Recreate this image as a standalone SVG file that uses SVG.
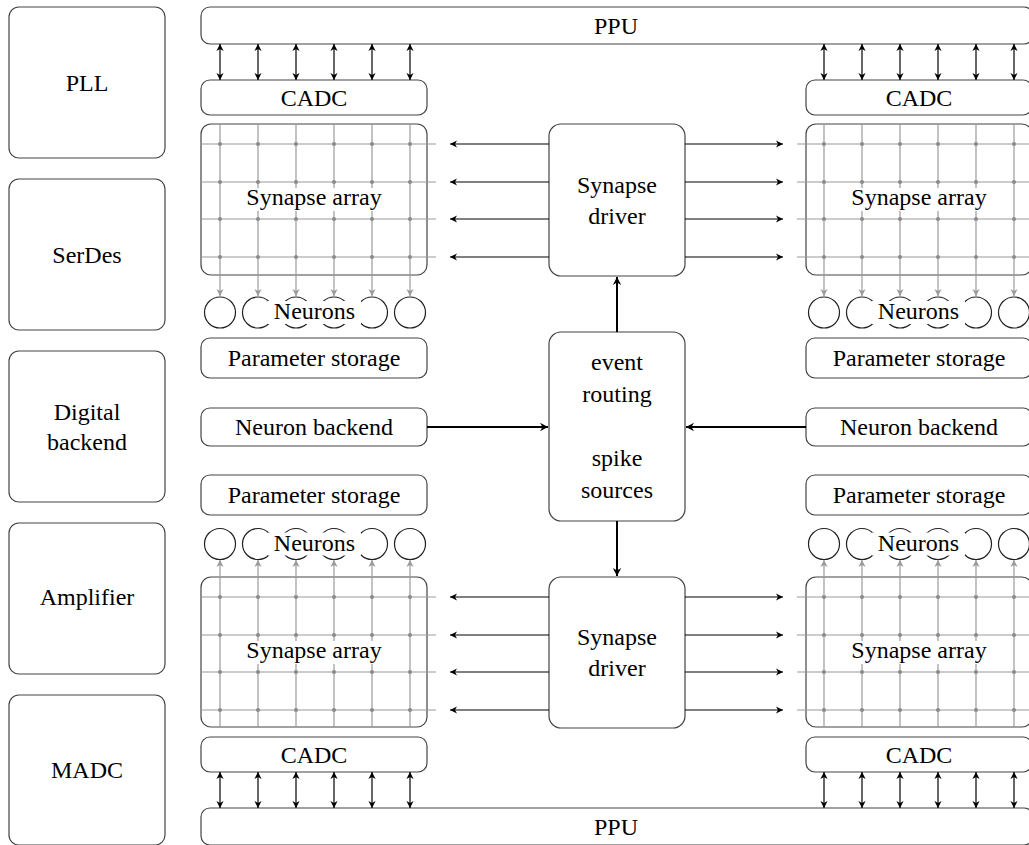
<svg xmlns="http://www.w3.org/2000/svg" width="1029" height="845" viewBox="0 0 1029 845">
<style>
.box{fill:#fff;stroke:#444;stroke-width:1.2}
.t{font-family:'Liberation Serif',serif;font-size:24px;fill:#000;text-anchor:middle}
.grid{stroke:#9a9a9a;stroke-width:1.2;fill:none}
.dot{fill:#8a8a8a}
.gar{stroke:#9a9a9a;stroke-width:1.2;fill:none;marker-end:url(#ag)}
.ar{stroke:#000;stroke-width:1.2;fill:none;marker-end:url(#ab)}
.dar{stroke:#000;stroke-width:1.2;fill:none;marker-end:url(#ab);marker-start:url(#ab)}
.tar{stroke:#000;stroke-width:2;fill:none;marker-end:url(#at)}
.neu{fill:none;stroke:#222;stroke-width:1.2}
.wb{fill:#fff;stroke:none}
</style>
<defs>
<marker id="ab" viewBox="-8 -4 9 8" refX="0" refY="0" markerWidth="9" markerHeight="8" markerUnits="userSpaceOnUse" orient="auto-start-reverse">
<path d="M0,0 L-7,-3.6 L-5,0 L-7,3.6 Z" fill="#000"/>
</marker>
<marker id="ag" viewBox="-8 -4 9 8" refX="0" refY="0" markerWidth="9" markerHeight="8" markerUnits="userSpaceOnUse" orient="auto">
<path d="M0,0 L-7,-3.6 L-5,0 L-7,3.6 Z" fill="#9a9a9a"/>
</marker>
<marker id="at" viewBox="-9 -5 10 10" refX="0" refY="0" markerWidth="10" markerHeight="10" markerUnits="userSpaceOnUse" orient="auto">
<path d="M0,0 L-8,-4.2 L-5.5,0 L-8,4.2 Z" fill="#000"/>
</marker>
</defs>
<!-- left column -->
<g id="pll"><rect class="box" x="9" y="7" width="156" height="151" rx="10"/><text class="t" x="87" y="91">PLL</text></g>
<g id="serdes"><rect class="box" x="9" y="179" width="156" height="151" rx="10"/><text class="t" x="87" y="263">SerDes</text></g>
<g id="digital"><rect class="box" x="9" y="351" width="156" height="151" rx="10"/><text class="t" x="87" y="420">Digital</text><text class="t" x="87" y="450">backend</text></g>
<g id="amplifier"><rect class="box" x="9" y="523" width="156" height="151" rx="10"/><text class="t" x="87" y="605">Amplifier</text></g>
<g id="madc"><rect class="box" x="9" y="695" width="156" height="150" rx="10"/><text class="t" x="87" y="778">MADC</text></g>

<!-- PPU -->
<g id="ppu-top"><rect class="box" x="201" y="7" width="832" height="37" rx="9"/><text class="t" x="616" y="34">PPU</text></g>
<g id="ppu-bottom"><rect class="box" x="201" y="808" width="832" height="37" rx="9"/><text class="t" x="616" y="835">PPU</text></g>

<!-- CADC -->
<g id="cadc-tl"><rect class="box" x="201" y="80" width="226" height="35" rx="9"/><text class="t" x="314" y="106">CADC</text></g>
<g id="cadc-tr"><rect class="box" x="806" y="80" width="226" height="35" rx="9"/><text class="t" x="919" y="106">CADC</text></g>
<g id="cadc-bl"><rect class="box" x="201" y="737" width="226" height="35" rx="9"/><text class="t" x="314" y="763">CADC</text></g>
<g id="cadc-br"><rect class="box" x="806" y="737" width="226" height="35" rx="9"/><text class="t" x="919" y="763">CADC</text></g>

<!-- Synapse arrays -->
<g id="array-tl">
<rect class="box" x="201" y="124" width="226" height="151" rx="10"/>
<path class="grid" d="M201,144H436M201,182H436M201,219H436M201,257H436"/>
<path class="gar" d="M220,124V296"/><path class="gar" d="M258,124V296"/><path class="gar" d="M296,124V296"/><path class="gar" d="M334,124V296"/><path class="gar" d="M372,124V296"/><path class="gar" d="M410,124V296"/>
<g class="dot">
<circle cx="220" cy="144" r="2"/><circle cx="258" cy="144" r="2"/><circle cx="296" cy="144" r="2"/><circle cx="334" cy="144" r="2"/><circle cx="372" cy="144" r="2"/><circle cx="410" cy="144" r="2"/>
<circle cx="220" cy="182" r="2"/><circle cx="258" cy="182" r="2"/><circle cx="296" cy="182" r="2"/><circle cx="334" cy="182" r="2"/><circle cx="372" cy="182" r="2"/><circle cx="410" cy="182" r="2"/>
<circle cx="220" cy="219" r="2"/><circle cx="258" cy="219" r="2"/><circle cx="296" cy="219" r="2"/><circle cx="334" cy="219" r="2"/><circle cx="372" cy="219" r="2"/><circle cx="410" cy="219" r="2"/>
<circle cx="220" cy="257" r="2"/><circle cx="258" cy="257" r="2"/><circle cx="296" cy="257" r="2"/><circle cx="334" cy="257" r="2"/><circle cx="372" cy="257" r="2"/><circle cx="410" cy="257" r="2"/>
</g>
<rect class="wb" x="244" y="188" width="140" height="23"/>
<text class="t" x="314" y="205">Synapse array</text>
</g>

<g id="array-tr">
<rect class="box" x="806" y="124" width="226" height="151" rx="10"/>
<path class="grid" d="M797,144H1033M797,182H1033M797,219H1033M797,257H1033"/>
<path class="gar" d="M824,124V296"/><path class="gar" d="M862,124V296"/><path class="gar" d="M900,124V296"/><path class="gar" d="M938,124V296"/><path class="gar" d="M976,124V296"/><path class="gar" d="M1014,124V296"/>
<g class="dot">
<circle cx="824" cy="144" r="2"/><circle cx="862" cy="144" r="2"/><circle cx="900" cy="144" r="2"/><circle cx="938" cy="144" r="2"/><circle cx="976" cy="144" r="2"/><circle cx="1014" cy="144" r="2"/>
<circle cx="824" cy="182" r="2"/><circle cx="862" cy="182" r="2"/><circle cx="900" cy="182" r="2"/><circle cx="938" cy="182" r="2"/><circle cx="976" cy="182" r="2"/><circle cx="1014" cy="182" r="2"/>
<circle cx="824" cy="219" r="2"/><circle cx="862" cy="219" r="2"/><circle cx="900" cy="219" r="2"/><circle cx="938" cy="219" r="2"/><circle cx="976" cy="219" r="2"/><circle cx="1014" cy="219" r="2"/>
<circle cx="824" cy="257" r="2"/><circle cx="862" cy="257" r="2"/><circle cx="900" cy="257" r="2"/><circle cx="938" cy="257" r="2"/><circle cx="976" cy="257" r="2"/><circle cx="1014" cy="257" r="2"/>
</g>
<rect class="wb" x="849" y="188" width="140" height="23"/>
<text class="t" x="919" y="205">Synapse array</text>
</g>

<g id="array-bl">
<rect class="box" x="201" y="577" width="226" height="150" rx="10"/>
<path class="grid" d="M201,597H436M201,635H436M201,672H436M201,710H436"/>
<path class="gar" d="M220,727V560"/><path class="gar" d="M258,727V560"/><path class="gar" d="M296,727V560"/><path class="gar" d="M334,727V560"/><path class="gar" d="M372,727V560"/><path class="gar" d="M410,727V560"/>
<g class="dot">
<circle cx="220" cy="597" r="2"/><circle cx="258" cy="597" r="2"/><circle cx="296" cy="597" r="2"/><circle cx="334" cy="597" r="2"/><circle cx="372" cy="597" r="2"/><circle cx="410" cy="597" r="2"/>
<circle cx="220" cy="635" r="2"/><circle cx="258" cy="635" r="2"/><circle cx="296" cy="635" r="2"/><circle cx="334" cy="635" r="2"/><circle cx="372" cy="635" r="2"/><circle cx="410" cy="635" r="2"/>
<circle cx="220" cy="672" r="2"/><circle cx="258" cy="672" r="2"/><circle cx="296" cy="672" r="2"/><circle cx="334" cy="672" r="2"/><circle cx="372" cy="672" r="2"/><circle cx="410" cy="672" r="2"/>
<circle cx="220" cy="710" r="2"/><circle cx="258" cy="710" r="2"/><circle cx="296" cy="710" r="2"/><circle cx="334" cy="710" r="2"/><circle cx="372" cy="710" r="2"/><circle cx="410" cy="710" r="2"/>
</g>
<rect class="wb" x="244" y="641" width="140" height="23"/>
<text class="t" x="314" y="658">Synapse array</text>
</g>

<g id="array-br">
<rect class="box" x="806" y="577" width="226" height="150" rx="10"/>
<path class="grid" d="M797,597H1033M797,635H1033M797,672H1033M797,710H1033"/>
<path class="gar" d="M824,727V560"/><path class="gar" d="M862,727V560"/><path class="gar" d="M900,727V560"/><path class="gar" d="M938,727V560"/><path class="gar" d="M976,727V560"/><path class="gar" d="M1014,727V560"/>
<g class="dot">
<circle cx="824" cy="597" r="2"/><circle cx="862" cy="597" r="2"/><circle cx="900" cy="597" r="2"/><circle cx="938" cy="597" r="2"/><circle cx="976" cy="597" r="2"/><circle cx="1014" cy="597" r="2"/>
<circle cx="824" cy="635" r="2"/><circle cx="862" cy="635" r="2"/><circle cx="900" cy="635" r="2"/><circle cx="938" cy="635" r="2"/><circle cx="976" cy="635" r="2"/><circle cx="1014" cy="635" r="2"/>
<circle cx="824" cy="672" r="2"/><circle cx="862" cy="672" r="2"/><circle cx="900" cy="672" r="2"/><circle cx="938" cy="672" r="2"/><circle cx="976" cy="672" r="2"/><circle cx="1014" cy="672" r="2"/>
<circle cx="824" cy="710" r="2"/><circle cx="862" cy="710" r="2"/><circle cx="900" cy="710" r="2"/><circle cx="938" cy="710" r="2"/><circle cx="976" cy="710" r="2"/><circle cx="1014" cy="710" r="2"/>
</g>
<rect class="wb" x="849" y="641" width="140" height="23"/>
<text class="t" x="919" y="658">Synapse array</text>
</g>

<!-- Neurons -->
<g id="neurons-tl">
<circle class="neu" cx="220" cy="312.5" r="15.5"/><circle class="neu" cx="258" cy="312.5" r="15.5"/><circle class="neu" cx="296" cy="312.5" r="15.5"/><circle class="neu" cx="334" cy="312.5" r="15.5"/><circle class="neu" cx="372" cy="312.5" r="15.5"/><circle class="neu" cx="410" cy="312.5" r="15.5"/>
<rect class="wb" x="268" y="301" width="93" height="23"/>
<text class="t" x="314.5" y="319">Neurons</text>
</g>
<g id="neurons-tr">
<circle class="neu" cx="824" cy="312.5" r="15.5"/><circle class="neu" cx="862" cy="312.5" r="15.5"/><circle class="neu" cx="900" cy="312.5" r="15.5"/><circle class="neu" cx="938" cy="312.5" r="15.5"/><circle class="neu" cx="976" cy="312.5" r="15.5"/><circle class="neu" cx="1014" cy="312.5" r="15.5"/>
<rect class="wb" x="872" y="301" width="93" height="23"/>
<text class="t" x="918.5" y="319">Neurons</text>
</g>
<g id="neurons-bl">
<circle class="neu" cx="220" cy="544" r="15.5"/><circle class="neu" cx="258" cy="544" r="15.5"/><circle class="neu" cx="296" cy="544" r="15.5"/><circle class="neu" cx="334" cy="544" r="15.5"/><circle class="neu" cx="372" cy="544" r="15.5"/><circle class="neu" cx="410" cy="544" r="15.5"/>
<rect class="wb" x="268" y="532.5" width="93" height="23"/>
<text class="t" x="314.5" y="550.5">Neurons</text>
</g>
<g id="neurons-br">
<circle class="neu" cx="824" cy="544" r="15.5"/><circle class="neu" cx="862" cy="544" r="15.5"/><circle class="neu" cx="900" cy="544" r="15.5"/><circle class="neu" cx="938" cy="544" r="15.5"/><circle class="neu" cx="976" cy="544" r="15.5"/><circle class="neu" cx="1014" cy="544" r="15.5"/>
<rect class="wb" x="872" y="532.5" width="93" height="23"/>
<text class="t" x="918.5" y="550.5">Neurons</text>
</g>

<!-- Parameter storage / Neuron backend -->
<g id="param-tl"><rect class="box" x="201" y="338" width="226" height="40" rx="9"/><text class="t" x="314" y="366">Parameter storage</text></g>
<g id="param-tr"><rect class="box" x="806" y="338" width="226" height="40" rx="9"/><text class="t" x="919" y="366">Parameter storage</text></g>
<g id="backend-l"><rect class="box" x="201" y="408" width="226" height="38" rx="9"/><text class="t" x="314" y="435">Neuron backend</text></g>
<g id="backend-r"><rect class="box" x="806" y="408" width="226" height="38" rx="9"/><text class="t" x="919" y="435">Neuron backend</text></g>
<g id="param-bl"><rect class="box" x="201" y="475" width="226" height="40" rx="9"/><text class="t" x="314" y="503">Parameter storage</text></g>
<g id="param-br"><rect class="box" x="806" y="475" width="226" height="40" rx="9"/><text class="t" x="919" y="503">Parameter storage</text></g>

<!-- Center column -->
<g id="driver-top"><rect class="box" x="549" y="124" width="136" height="152" rx="12"/><text class="t" x="617" y="193">Synapse</text><text class="t" x="617" y="224">driver</text></g>
<g id="routing"><rect class="box" x="549" y="332" width="136" height="189" rx="12"/><text class="t" x="617" y="370">event</text><text class="t" x="617" y="402">routing</text><text class="t" x="617" y="466">spike</text><text class="t" x="617" y="498">sources</text></g>
<g id="driver-bottom"><rect class="box" x="549" y="577" width="136" height="151" rx="12"/><text class="t" x="617" y="645">Synapse</text><text class="t" x="617" y="676">driver</text></g>

<!-- connectors -->
<g id="connectors">
<path class="dar" d="M220,44V80"/><path class="dar" d="M258,44V80"/><path class="dar" d="M296,44V80"/><path class="dar" d="M334,44V80"/><path class="dar" d="M372,44V80"/><path class="dar" d="M410,44V80"/>
<path class="dar" d="M824,44V80"/><path class="dar" d="M862,44V80"/><path class="dar" d="M900,44V80"/><path class="dar" d="M938,44V80"/><path class="dar" d="M976,44V80"/><path class="dar" d="M1014,44V80"/>
<path class="dar" d="M220,772V808"/><path class="dar" d="M258,772V808"/><path class="dar" d="M296,772V808"/><path class="dar" d="M334,772V808"/><path class="dar" d="M372,772V808"/><path class="dar" d="M410,772V808"/>
<path class="dar" d="M824,772V808"/><path class="dar" d="M862,772V808"/><path class="dar" d="M900,772V808"/><path class="dar" d="M938,772V808"/><path class="dar" d="M976,772V808"/><path class="dar" d="M1014,772V808"/>

<path class="ar" d="M549,144H450"/><path class="ar" d="M549,182H450"/><path class="ar" d="M549,219H450"/><path class="ar" d="M549,257H450"/>
<path class="ar" d="M685,144H783"/><path class="ar" d="M685,182H783"/><path class="ar" d="M685,219H783"/><path class="ar" d="M685,257H783"/>
<path class="ar" d="M549,597H450"/><path class="ar" d="M549,635H450"/><path class="ar" d="M549,672H450"/><path class="ar" d="M549,710H450"/>
<path class="ar" d="M685,597H783"/><path class="ar" d="M685,635H783"/><path class="ar" d="M685,672H783"/><path class="ar" d="M685,710H783"/>

<path class="tar" d="M617,332V277"/>
<path class="tar" d="M617,521V576"/>
<path class="tar" d="M427,427H548"/>
<path class="tar" d="M806,427H686"/>
</g>
</svg>
